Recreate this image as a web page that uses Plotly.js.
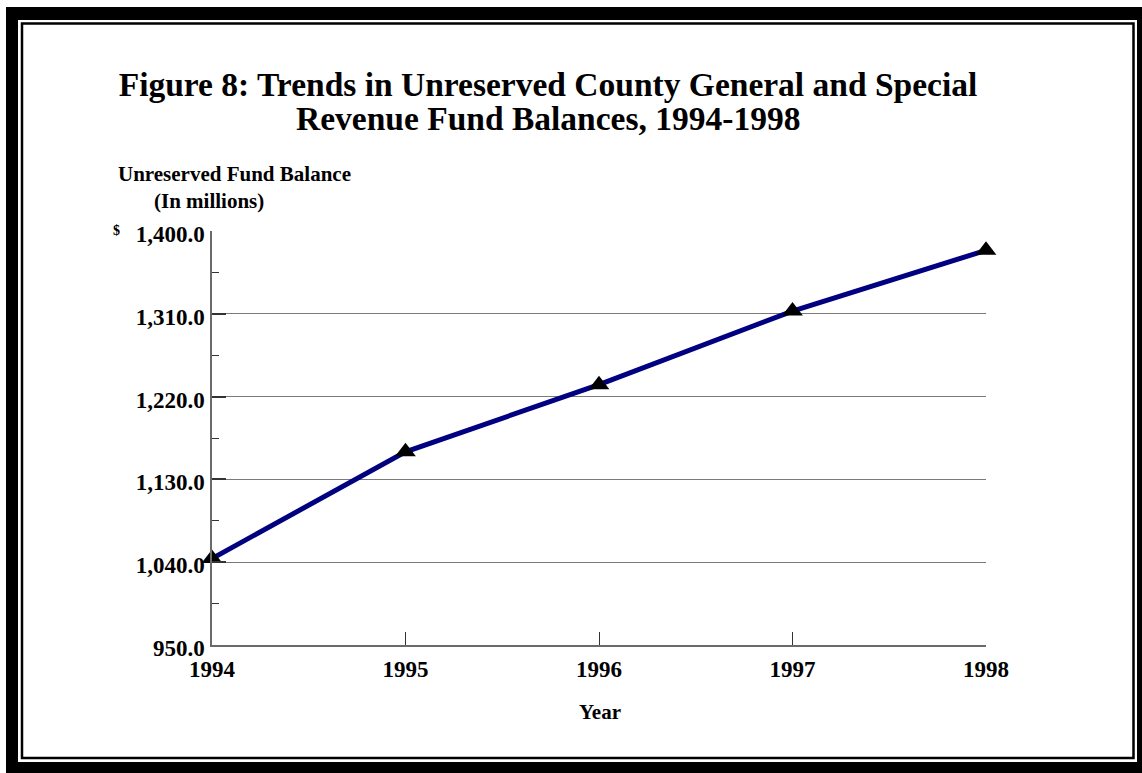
<!DOCTYPE html>
<html>
<head>
<meta charset="utf-8">
<script src="https://cdn.plot.ly/plotly-3.0.1.min.js"></script>
<style>
  html, body { margin: 0; padding: 0; background: #ffffff; }
  #chart { width: 1142px; height: 773px; }
</style>
</head>
<body>
<div id="chart"></div>
<script>
// ---- data ----
const years = [1994, 1995, 1996, 1997, 1998];
const fundBalance = [1044, 1160, 1233, 1313, 1379];
const titleLine1 = "Figure 8: Trends in Unreserved County General and Special";
const titleLine2 = "Revenue Fund Balances, 1994-1998";
const yTitleLine1 = "Unreserved Fund Balance";
const yTitleLine2 = "(In millions)";
const yCurrency = "$";
const xTitle = "Year";

// ---- layout geometry ----
const W = 1142, H = 773;
const M = { l: 212, r: 156, t: 231, b: 128 };
const PW = W - M.l - M.r, PH = H - M.t - M.b;
const px = v => (v - M.l) / PW;
const py = v => (H - M.b - v) / PH;
const serif = "Liberation Serif, Times New Roman, serif";

function rect(x0, y0, x1, y1) {
  return { type: 'rect', xref: 'paper', yref: 'paper', layer: 'above',
    x0: px(x0), x1: px(x1), y0: py(y0), y1: py(y1),
    fillcolor: '#000000', line: { width: 0 } };
}

const shapes = [
  rect(6, 7, 1142, 20),
  rect(6, 7, 18, 773),
  rect(1137, 7, 1142, 773),
  rect(6, 762, 1142, 773),
  { type: 'rect', xref: 'paper', yref: 'paper', layer: 'above',
    x0: px(22), x1: px(1133.5), y0: py(23.5), y1: py(758),
    fillcolor: 'rgba(0,0,0,0)', line: { color: '#000000', width: 2.5 } }
];

function label(text, x, y, size, xanchor) {
  return { text: text, xref: 'paper', yref: 'paper', x: px(x), y: py(y),
    xanchor: xanchor || 'center', yanchor: 'middle', showarrow: false,
    font: { family: serif, size: size, color: '#000000', weight: 'bold' } };
}

const annotations = [
  label(titleLine2, 548, 119, 33.5),
  label(yTitleLine1, 116, 174, 21, 'left'),
  label(yTitleLine2, 152, 201, 21, 'left'),
  label(yCurrency, 111, 230, 14, 'left'),
  label(xTitle, 600, 712, 21)
];

const trace = {
  x: years, y: fundBalance, type: 'scatter', mode: 'lines+markers',
  line: { color: '#000080', width: 5 },
  marker: { symbol: 'triangle-up', size: 18, color: '#000000' },
  cliponaxis: false, hoverinfo: 'x+y'
};

const layout = {
  width: W, height: H,
  margin: M,
  paper_bgcolor: '#ffffff', plot_bgcolor: '#ffffff',
  showlegend: false,
  title: { text: titleLine1, x: 548 / W, xanchor: 'center', xref: 'container',
    y: 1 - 84 / H, yanchor: 'middle', yref: 'container',
    font: { family: serif, size: 33.5, color: '#000000', weight: 'bold' } },
  xaxis: {
    range: [1994, 1998], tick0: 1994, dtick: 1, showgrid: false, zeroline: false,
    showline: true, linecolor: '#6a6a6a', linewidth: 1.5,
    ticks: 'inside', ticklen: 13, tickcolor: '#333333', tickwidth: 1,
    tickfont: { family: serif, size: 23, color: '#000000', weight: 'bold' },
    ticklabelstandoff: 3
  },
  yaxis: {
    range: [950, 1400], tick0: 950, dtick: 90, tickformat: ',.1f',
    showgrid: true, gridcolor: '#7a7a7a', gridwidth: 1.2, zeroline: false,
    showline: true, linecolor: '#6a6a6a', linewidth: 1.5,
    ticks: 'inside', ticklen: 14, tickcolor: '#333333', tickwidth: 1.5,
    tickfont: { family: serif, size: 23, color: '#000000', weight: 'bold' },
    ticklabelshift: 3, ticklabelstandoff: 1,
    minor: { tick0: 995, dtick: 90, ticks: 'inside', ticklen: 7, tickcolor: '#333333', tickwidth: 1, showgrid: false }
  },
  shapes: shapes,
  annotations: annotations
};

Plotly.newPlot('chart', [trace], layout, { displayModeBar: false, responsive: false });
</script>
</body>
</html>
